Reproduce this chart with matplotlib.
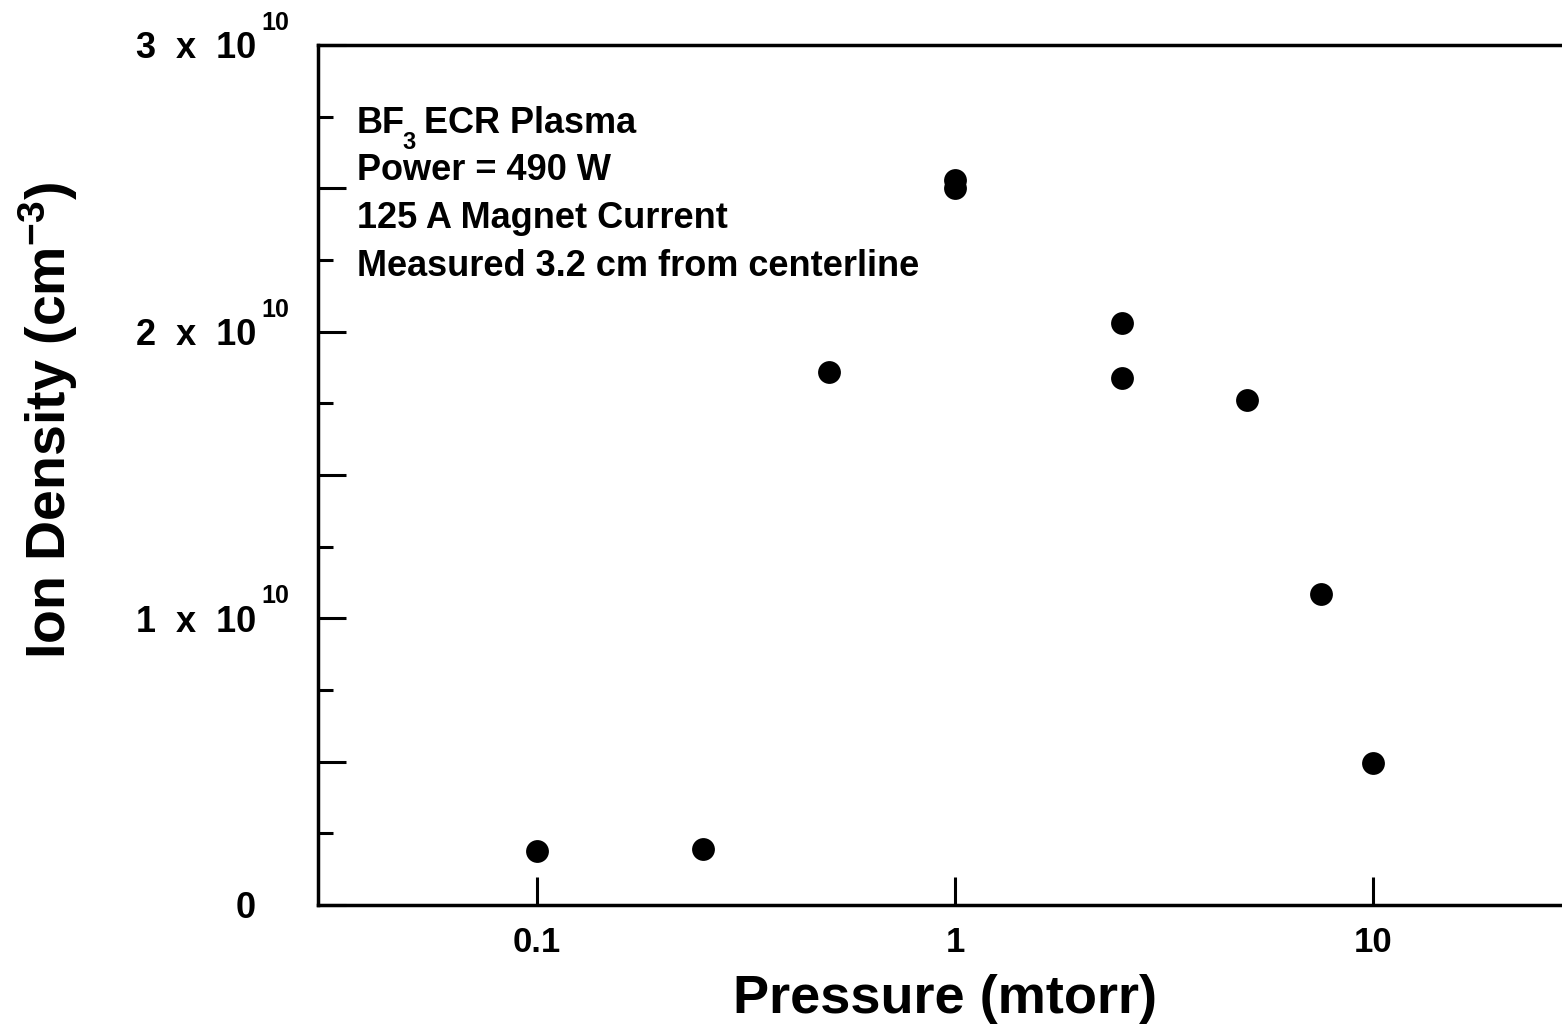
import matplotlib
matplotlib.use("Agg")
import matplotlib.pyplot as plt
from matplotlib.ticker import FixedLocator, NullFormatter, FixedFormatter, NullLocator
from matplotlib.transforms import blended_transform_factory, ScaledTranslation

plt.rcParams['font.family'] = ['Liberation Sans', 'DejaVu Sans']
plt.rcParams['font.weight'] = 'bold'
plt.rcParams['mathtext.fontset'] = 'custom'
plt.rcParams['mathtext.rm'] = 'Liberation Sans:bold'
plt.rcParams['mathtext.it'] = 'Liberation Sans:bold'
plt.rcParams['mathtext.bf'] = 'Liberation Sans:bold'
plt.rcParams['mathtext.default'] = 'rm'

# Data
pressure = [0.1, 0.25, 0.5, 1.0, 1.0, 2.5, 2.5, 5.0, 7.5, 10.0]
density = [1.9e9, 1.95e9, 1.86e10, 2.53e10, 2.50e10, 2.03e10, 1.84e10, 1.76e10, 1.085e10, 0.495e10]

x_ticks = [0.1, 1, 10]
x_ticklabels = ["0.1", "1", "10"]
y_major = [0, 0.5e10, 1e10, 1.5e10, 2e10, 2.5e10, 3e10]
y_label_vals = [0, 1e10, 2e10, 3e10]
y_label_main = ["0", "1  x  10", "2  x  10", "3  x  10"]
y_label_exp = ["", "10", "10", "10"]
y_minor = [0.25e10, 0.75e10, 1.25e10, 1.75e10, 2.25e10, 2.75e10]

title_parts = ["BF", "3", "ECR Plasma"]
annotation = ["Power = 490 W", "125 A Magnet Current",
              "Measured 3.2 cm from centerline"]

fig = plt.figure(figsize=(15.62, 10.25), dpi=100)
ax = fig.add_axes([318/1562, 120/1025, (1573-318)/1562, (905-45)/1025])

ax.scatter(pressure, density, s=270, color='black', zorder=3, linewidths=0)

ax.set_xscale('log')
ax.set_xlim(0.03, 30)
ax.set_ylim(0, 3e10)

ax.xaxis.set_major_locator(FixedLocator(x_ticks))
ax.xaxis.set_major_formatter(FixedFormatter(x_ticklabels))
ax.xaxis.set_minor_locator(NullLocator())
ax.yaxis.set_major_locator(FixedLocator(y_major))
ax.yaxis.set_major_formatter(NullFormatter())
ax.yaxis.set_minor_locator(FixedLocator(y_minor))

ax.tick_params(axis='both', which='major', direction='in', length=20, width=2.2,
               labelsize=25, colors='black')
ax.tick_params(axis='y', which='minor', direction='in', length=11, width=2.2)
ax.tick_params(axis='x', which='major', pad=15)

# y tick labels with raised exponent
base = blended_transform_factory(ax.transAxes, ax.transData)
main_tr = base + ScaledTranslation(-0.62, -0.04, fig.dpi_scale_trans)
exp_tr = base + ScaledTranslation(-0.57, 0.22, fig.dpi_scale_trans)
for v, m, e in zip(y_label_vals, y_label_main, y_label_exp):
    ax.text(0, v, m, transform=main_tr, ha='right', va='center', fontsize=26,
            fontweight='bold', clip_on=False)
    if e:
        ax.text(0, v, e, transform=exp_tr, ha='left', va='center', fontsize=18,
                fontweight='bold', clip_on=False)

for sp in ax.spines.values():
    sp.set_linewidth(2.5)

ax.set_xlabel("Pressure (mtorr)", fontsize=39, fontweight='bold', labelpad=11)
ax.set_ylabel(r"Ion Density (cm$^{-3}$)", fontsize=40, fontweight='bold')
ax.yaxis.set_label_coords(-0.19, 0.564)

# annotation block
y0 = 0.909
dy = 0.0555
t1 = ax.text(0.031, y0, title_parts[0], transform=ax.transAxes, fontsize=26,
             fontweight='bold', va='center', ha='left')
t2 = ax.annotate(title_parts[1], xy=(1, 0), xycoords=t1, xytext=(-2, 7),
                 textcoords='offset points', fontsize=17, fontweight='bold',
                 va='top', ha='left')
ax.annotate(title_parts[2], xy=(1, 0), xycoords=(t2, t1), xytext=(6, 0),
            textcoords='offset points', fontsize=26, fontweight='bold',
            va='bottom', ha='left')
for i, line in enumerate(annotation):
    ax.text(0.031, y0 - (i + 1) * dy, line, transform=ax.transAxes, fontsize=26,
            fontweight='bold', va='center', ha='left')

fig.savefig("out.png", dpi=100)
